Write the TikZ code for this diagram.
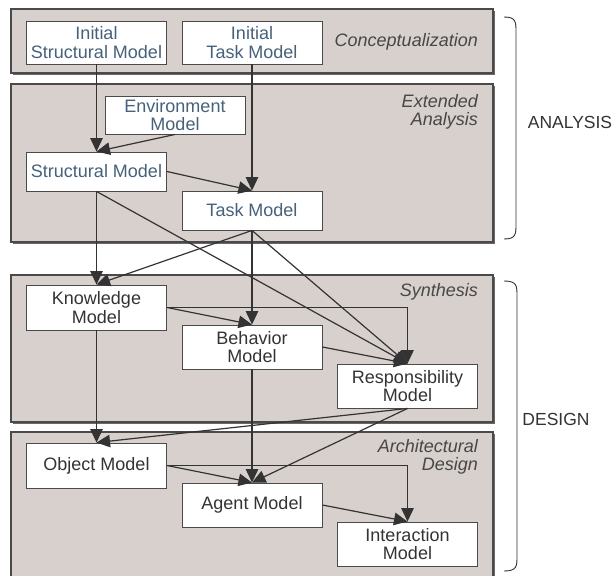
\documentclass[tikz,border=0pt]{standalone}
\usepackage{fontspec}
\setmainfont{Liberation Sans}
\usepackage{tikz}
\usetikzlibrary{shapes,arrows.meta}

\definecolor{panelfill}{HTML}{D8D0CD}
\definecolor{panelline}{HTML}{4A4A4A}
\definecolor{panelshade}{HTML}{6E6664}
\definecolor{linecol}{HTML}{333333}
\definecolor{anatext}{HTML}{46617A}
\definecolor{destext}{HTML}{333333}

\tikzset{
	model/.style={draw=panelline, fill=white, line width=0.9pt, minimum width=140pt, inner sep=0pt, align=center, font=\fontsize{18}{18.5}\selectfont},
	anamodel/.style={model, text=anatext},
	desmodel/.style={model, text=destext},
	panel/.style={fill=panelfill, draw=panelline, line width=1.3pt},
	phase/.style={inner sep=0pt, align=right, text=destext!90, font=\fontsize{18}{18.5}\selectfont\itshape},
	stage/.style={inner sep=0pt, text=destext, font=\fontsize{17.5}{18}\selectfont},
	conn/.style={draw=linecol, line width=1.2pt, -{Triangle[length=13.5pt,width=12.5pt]}}
}

\begin{document}
\begin{tikzpicture}[x=1pt,y=-1pt]
	\clip (0,0) rectangle (615,575);

	% phase panels with shadow
	\fill[panelshade] (13,11) rectangle (495,75);
	\draw[panel] (11,9) rectangle (493,73);
	\fill[panelshade] (13,86) rectangle (495,244);
	\draw[panel] (11,84) rectangle (493,242);
	\fill[panelshade] (13,277) rectangle (495,424);
	\draw[panel] (11,275) rectangle (493,422);
	\fill[panelshade] (13,434) rectangle (495,600);
	\draw[panel] (11,432) rectangle (493,598);

	\node[phase, anchor=east] (conc) at (478,42) {Conceptualization};
	\node[phase, anchor=east] (ext) at (478,112) {Extended\\Analysis};
	\node[phase, anchor=east] (syn) at (478,292) {Synthesis};
	\node[phase, anchor=east] (arch) at (478,457) {Architectural\\Design};

	% models
	\node[anamodel, minimum height=43pt] (ism) at (96.5,42.5) {Initial\\Structural Model};
	\node[anamodel, minimum height=43pt] (itm) at (252,42.5) {Initial\\Task Model};
	\node[anamodel, minimum height=38pt] (env) at (175,115) {Environment\\Model};
	\node[anamodel, minimum height=39pt] (sm) at (96.5,171.5) {Structural Model};
	\node[anamodel, minimum height=39pt] (tm) at (252,210.5) {Task Model};

	\node[desmodel, minimum height=45pt] (km) at (96.5,307.5) {Knowledge\\Model};
	\node[desmodel, minimum height=44pt] (bm) at (252,347) {Behavior\\Model};
	\node[desmodel, minimum height=44pt] (rm) at (407.5,386) {Responsibility\\Model};
	\node[desmodel, minimum height=45pt] (om) at (96.5,465.5) {Object Model};
	\node[desmodel, minimum height=44pt] (am) at (252,505) {Agent Model};
	\node[desmodel, minimum height=44pt] (im) at (407.5,544) {Interaction\\Model};

	% dependencies
	\draw[conn] (ism.south) -- (sm.north);
	\draw[conn] (env.south) -- (sm.north);
	\draw[conn] (itm.south) -- (tm.north);
	\draw[conn] (sm.east) -- (tm.north);

	\draw[conn] (sm.south) -- (km.north);
	\draw[conn] (sm.south) -- (rm.north);
	\draw[conn] (tm.south) -- (km.north);
	\draw[conn] (tm.south) -- (bm.north);
	\draw[conn] (tm.south) -- (rm.north);

	\draw[conn] (km.east) -- (bm.north);
	\draw[conn] (km.east) -| (rm.north);
	\draw[conn] (bm.east) -- (rm.north);

	\draw[conn] (km.south) -- (om.north);
	\draw[conn] (rm.south) -- (om.north);
	\draw[conn] (rm.south) -- (am.north);
	\draw[conn] (bm.south) -- (am.north);

	\draw[conn] (om.east) -- (am.north);
	\draw[conn] (om.east) -| (im.north);
	\draw[conn] (am.east) -- (im.north);

	% braces and stage names
	\draw[linecol, line width=0.9pt] (504,17) .. controls (516,17) and (516,22) .. (516,32) -- (516,224) .. controls (516,234) and (516,239) .. (504,239);
	\node[stage] (ana) at (570,122) {ANALYSIS};
	\draw[linecol, line width=0.9pt] (504,281) .. controls (517,281) and (517,286) .. (517,296) -- (517,556) .. controls (517,566) and (517,571) .. (504,571);
	\node[stage] (des) at (556,419) {DESIGN};
\end{tikzpicture}
\end{document}
